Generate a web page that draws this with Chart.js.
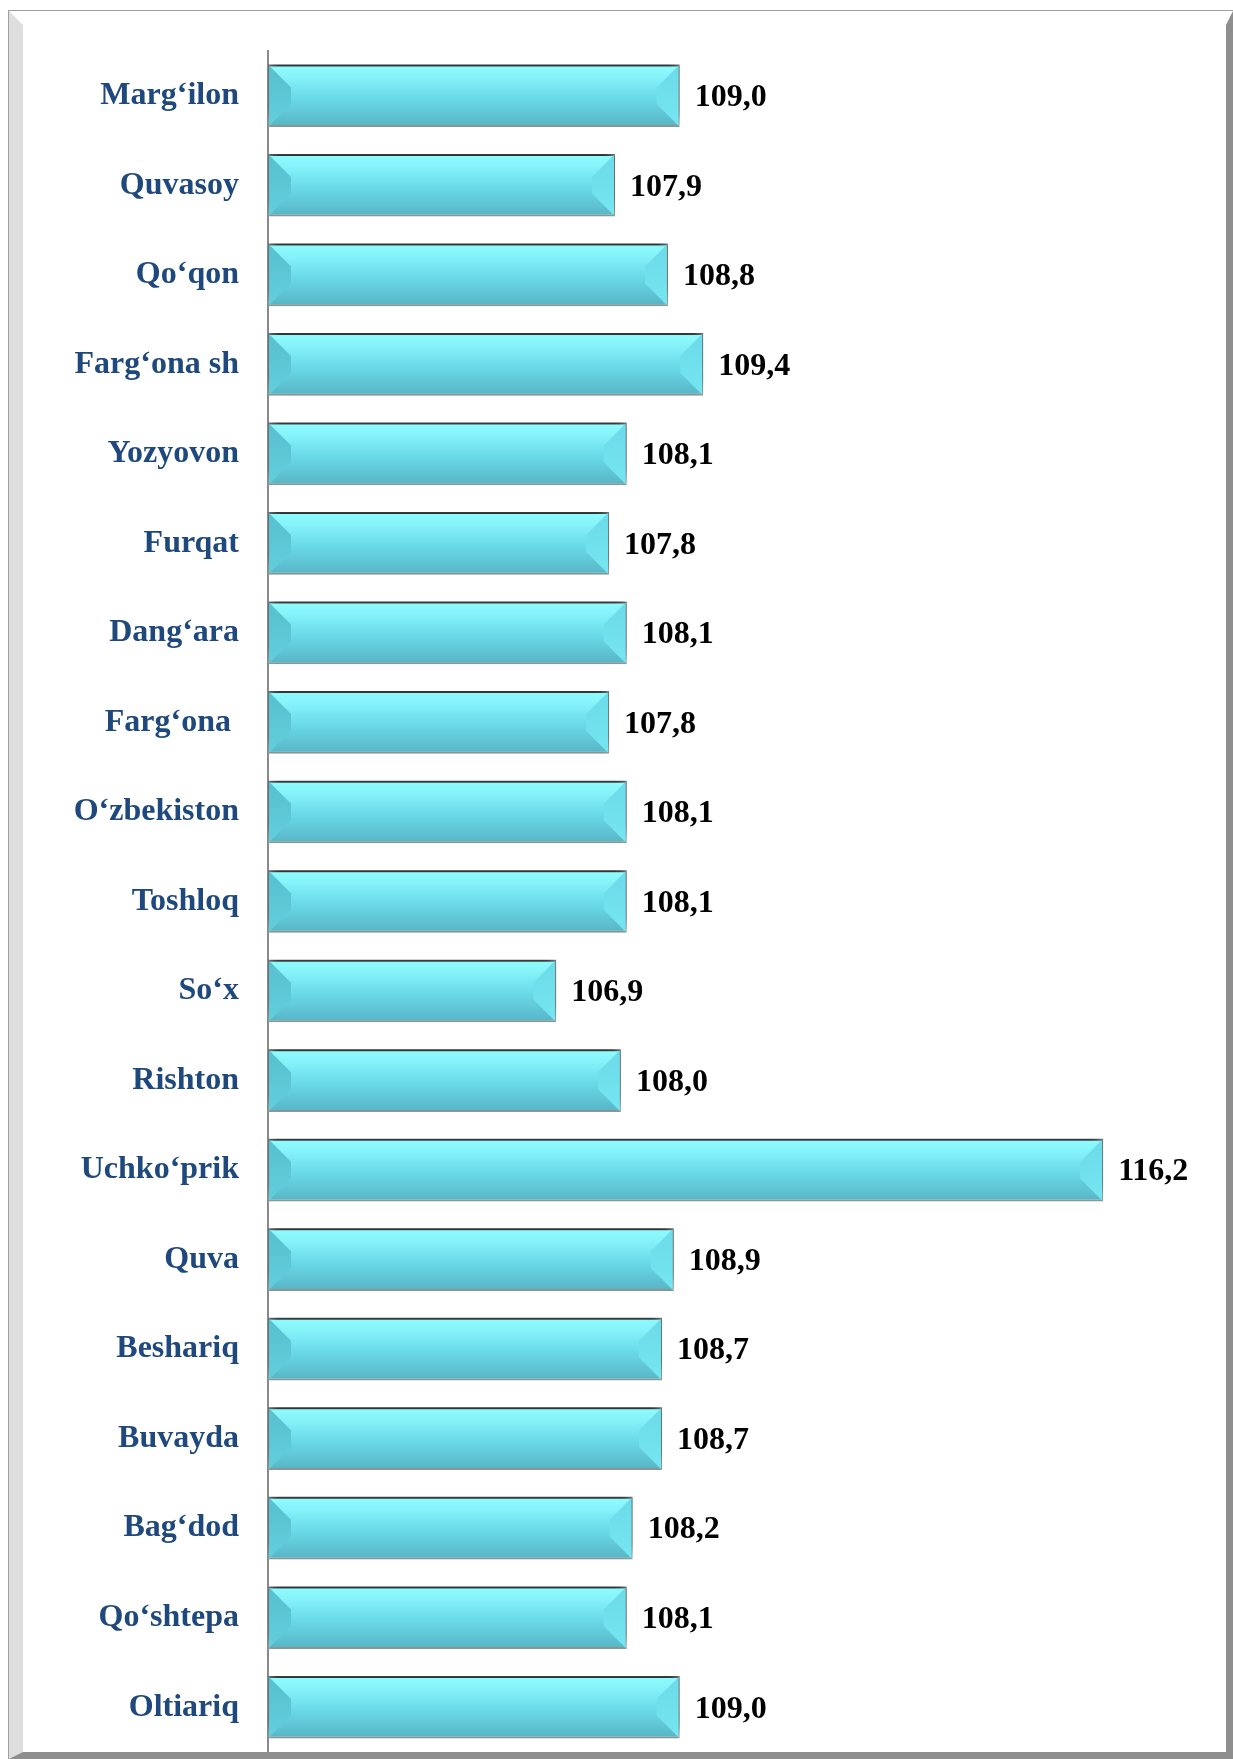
<!DOCTYPE html>
<html>
<head>
<meta charset="utf-8">
<script src="https://cdn.jsdelivr.net/npm/chart.js@4.4.0/dist/chart.umd.min.js"></script>
<style>
  html, body { margin: 0; padding: 0; background: #fff; }
  #wrap { position: relative; width: 1233px; height: 1759px; overflow: hidden; }
  #frame {
    position: absolute; left: 8px; top: 10px; width: 1225px; height: 1749px;
    box-sizing: border-box; border-top: 1px solid #a0a0a0; border-left: 1px solid #a0a0a0;
  }
  #bevel {
    position: absolute; left: 0; top: 0; right: 0; bottom: 0;
    border-top: 14px solid #fff; border-left: 14px solid #dedede;
    border-right: 7px solid #8e8e8e; border-bottom: 7px solid #8e8e8e;
  }
  #box { position: absolute; left: 0; top: 0; width: 1233px; height: 1759px; }
</style>
</head>
<body>
<div id="wrap">
  <div id="frame"><div id="bevel"></div></div>
  <div id="box"><canvas id="c"></canvas></div>
</div>
<script>
// districts, top to bottom
const districts = [
  'Marg‘ilon', 'Quvasoy', 'Qo‘qon', 'Farg‘ona sh', 'Yozyovon', 'Furqat',
  'Dang‘ara', 'Farg‘ona ', 'O‘zbekiston', 'Toshloq', 'So‘x', 'Rishton',
  'Uchko‘prik', 'Quva', 'Beshariq', 'Buvayda', 'Bag‘dod', 'Qo‘shtepa', 'Oltiariq'
];
const values = [
  109.0, 107.9, 108.8, 109.4, 108.1, 107.8,
  108.1, 107.8, 108.1, 108.1, 106.9, 108.0,
  116.2, 108.9, 108.7, 108.7, 108.2, 108.1, 109.0
];
const xMin = 102;
const xMax = 118;

const serif = "'Liberation Serif', 'Times New Roman', serif";
const labelFont = { family: serif, size: 32, weight: 'bold' };
const barPct = 0.70;

// vertical cyan gradient, one per bar
function barGradient(context) {
  const chart = context.chart;
  const y = chart.scales.y;
  if (!y || context.dataIndex == null || !chart.chartArea) return '#6ad9e8';
  const c = y.getPixelForValue(context.dataIndex);
  const h = (chart.chartArea.bottom - chart.chartArea.top) / districts.length * barPct;
  const g = chart.ctx.createLinearGradient(0, c - h / 2, 0, c + h / 2);
  g.addColorStop(0, '#8ffcff');
  g.addColorStop(0.2, '#86f3fa');
  g.addColorStop(0.55, '#69d9e8');
  g.addColorStop(1, '#57b4c4');
  return g;
}

// shadow above the bars
const barShadow = {
  id: 'barShadow',
  beforeDatasetsDraw(chart) {
    const ctx = chart.ctx;
    ctx.save();
    ctx.shadowColor = 'rgba(0,0,0,0.7)';
    ctx.shadowBlur = 10;
    ctx.shadowOffsetY = -8;
  },
  afterDatasetsDraw(chart) {
    chart.ctx.restore();
  }
};

// bevel faces on the bar ends + value labels
const bevelAndLabels = {
  id: 'bevelAndLabels',
  afterDatasetsDraw(chart) {
    const ctx = chart.ctx;
    const meta = chart.getDatasetMeta(0);
    meta.data.forEach((bar, i) => {
      const h = bar.height;
      const top = bar.y - h / 2 + 1, bottom = bar.y + h / 2 - 1;
      const left = Math.max(bar.base, chart.chartArea.left) + 1, right = bar.x - 1;
      const d = 22;
      ctx.save();
      // left face
      let g = ctx.createLinearGradient(0, top, 0, bottom);
      g.addColorStop(0, '#58bfcf');
      g.addColorStop(1, '#62cfdd');
      ctx.fillStyle = g;
      ctx.beginPath();
      ctx.moveTo(left, top); ctx.lineTo(left + d, top + d);
      ctx.lineTo(left + d, bottom - d); ctx.lineTo(left, bottom);
      ctx.closePath(); ctx.fill();
      // right face
      g = ctx.createLinearGradient(0, top, 0, bottom);
      g.addColorStop(0, '#6cdae8');
      g.addColorStop(1, '#76e6f2');
      ctx.fillStyle = g;
      ctx.beginPath();
      ctx.moveTo(right, top); ctx.lineTo(right - d, top + d);
      ctx.lineTo(right - d, bottom - d); ctx.lineTo(right, bottom);
      ctx.closePath(); ctx.fill();
      // value
      ctx.fillStyle = '#000';
      ctx.font = 'bold 32px ' + serif;
      ctx.textAlign = 'left';
      ctx.textBaseline = 'middle';
      ctx.fillText(values[i].toFixed(1).replace('.', ','), bar.x + 15, bar.y + 2);
      ctx.restore();
    });
  }
};

new Chart(document.getElementById('c'), {
  type: 'bar',
  data: {
    labels: districts,
    datasets: [{
      data: values,
      base: xMin,
      backgroundColor: barGradient,
      borderColor: '#8c9a9c',
      borderWidth: 2,
      borderSkipped: false,
      barPercentage: barPct,
      categoryPercentage: 1.0
    }]
  },
  options: {
    indexAxis: 'y',
    responsive: true,
    maintainAspectRatio: false,
    animation: false,
    layout: { padding: { top: 51, bottom: 7, left: 0, right: 24 } },
    plugins: { legend: { display: false }, tooltip: { enabled: false } },
    scales: {
      x: { display: false, min: xMin, max: xMax },
      y: {
        grid: { display: false, drawTicks: false },
        border: { display: true, color: '#8a8a8a', width: 2 },
        ticks: { color: '#1f497d', font: labelFont, padding: 29 },
        afterFit(scale) {
          scale.width = 268;
          scale.paddingTop = 0;
          scale.paddingBottom = 0;
        }
      }
    }
  },
  plugins: [barShadow, bevelAndLabels]
});
</script>
</body>
</html>
